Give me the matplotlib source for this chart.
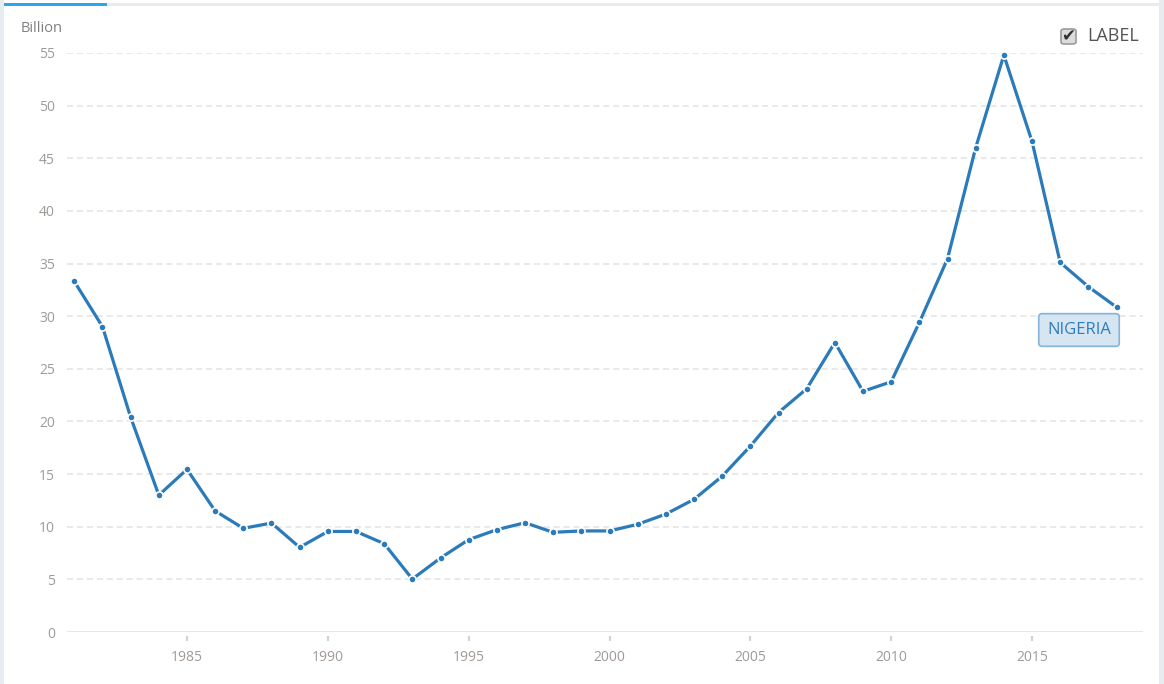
import matplotlib
matplotlib.use("Agg")
import matplotlib.pyplot as plt
from matplotlib.patches import FancyBboxPatch, Rectangle
import matplotlib.transforms as mtransforms

plt.rcParams['font.family'] = ['Open Sans', 'DejaVu Sans']

years = list(range(1981, 2019))
values = [33.3, 29.0, 20.4, 13.0, 15.45, 11.5, 9.85, 10.35, 8.04, 9.55,
          9.55, 8.39, 5.03, 7.03, 8.77, 9.72, 10.38, 9.47, 9.6, 9.6,
          10.23, 11.2, 12.6, 14.8, 17.66, 20.85, 23.1, 27.5, 22.86, 23.77,
          29.4, 35.46, 46.0, 54.8, 46.6, 35.1, 32.8, 30.86]
series_label = "NIGERIA"
y_ticks = [0, 5, 10, 15, 20, 25, 30, 35, 40, 45, 50, 55]
x_ticks = [1985, 1990, 1995, 2000, 2005, 2010, 2015]

W, H = 1164, 684
fig = plt.figure(figsize=(W / 100, H / 100), dpi=100)
fig.patch.set_facecolor('white')

# frame decoration
fig.add_artist(Rectangle((0, 0), 4 / W, 1, transform=fig.transFigure, facecolor='#e8ebef', edgecolor='none'))
fig.add_artist(Rectangle((1159 / W, 0), 5 / W, 1, transform=fig.transFigure, facecolor='#e8ebef', edgecolor='none'))
fig.add_artist(Rectangle((0, 1 - 6 / H), 1, 3 / H, transform=fig.transFigure, facecolor='#e8ebef', edgecolor='none'))
fig.add_artist(Rectangle((4 / W, 1 - 6 / H), 103 / W, 3 / H, transform=fig.transFigure, facecolor='#2ea3f2', edgecolor='none'))

left, right, top, bottom = 67, 1143, 53, 632
ax = fig.add_axes([left / W, 1 - bottom / H, (right - left) / W, (bottom - top) / H])
ax.set_facecolor('none')

ax.plot(years, values, color='#2b7bba', linewidth=2.3, marker='o', markersize=5.2,
        markerfacecolor='#2b7bba', markeredgecolor='white', markeredgewidth=1.2,
        solid_joinstyle='round', zorder=3, clip_on=False)

ax.set_xlim(1980.74, 2018.94)
ax.set_ylim(0, 55)
ax.set_yticks(y_ticks)
ax.set_xticks(x_ticks)
ax.set_yticklabels([str(v) for v in y_ticks])
ax.set_xticklabels([str(v) for v in x_ticks])

for v in y_ticks[1:]:
    ax.axhline(v, color='#e3e3e3', linewidth=1.1, linestyle=(0, (4, 2.5)), zorder=1)
ax.axhline(0, color='#e0e3e8', linewidth=2, zorder=2)

for s in ax.spines.values():
    s.set_visible(False)

ax.tick_params(axis='y', length=0, pad=8.6, labelsize=10, labelcolor='#a09a96')
ax.tick_params(axis='x', length=0, pad=13, labelsize=10, labelcolor='#a09a96')

# tick marks below the axis line, with a small gap
trans = mtransforms.blended_transform_factory(ax.transData, ax.transAxes)
ph = bottom - top
ax.vlines(x_ticks, -4 / ph, -9 / ph, transform=trans, color='#d0d4d8', linewidth=1.6, clip_on=False)

fig.text(21 / W, 1 - 28 / H, "Billion", fontsize=10.5, color='#808080', va='center', ha='left')

# label box
ax.annotate(series_label, xy=(years[-1], values[-1]), xytext=(1079 / W, 1 - 330 / H),
            textcoords='figure fraction', ha='center', va='center', fontsize=12, color='#2f7dbc',
            bbox=dict(boxstyle='round,pad=0.5,rounding_size=0.2', facecolor='#d5e5f2',
                      edgecolor='#85b3da', linewidth=1.2))

# checkbox legend
cb = FancyBboxPatch((1061 / W, 1 - 44 / H), 15 / W, 15 / H, transform=fig.transFigure,
                    boxstyle='round,pad=0,rounding_size=0.003', facecolor='#dcdcdc',
                    edgecolor='#9a9a9a', linewidth=1.2)
fig.add_artist(cb)
fig.text(1068.5 / W, 1 - 36.5 / H, "\u2714", family=['DejaVu Sans'], fontsize=12, color='#333333',
         ha='center', va='center')
fig.text(1087 / W, 1 - 36 / H, "LABEL", fontsize=13, color='#555555', ha='left', va='center')

fig.savefig('out.png', dpi=100)
